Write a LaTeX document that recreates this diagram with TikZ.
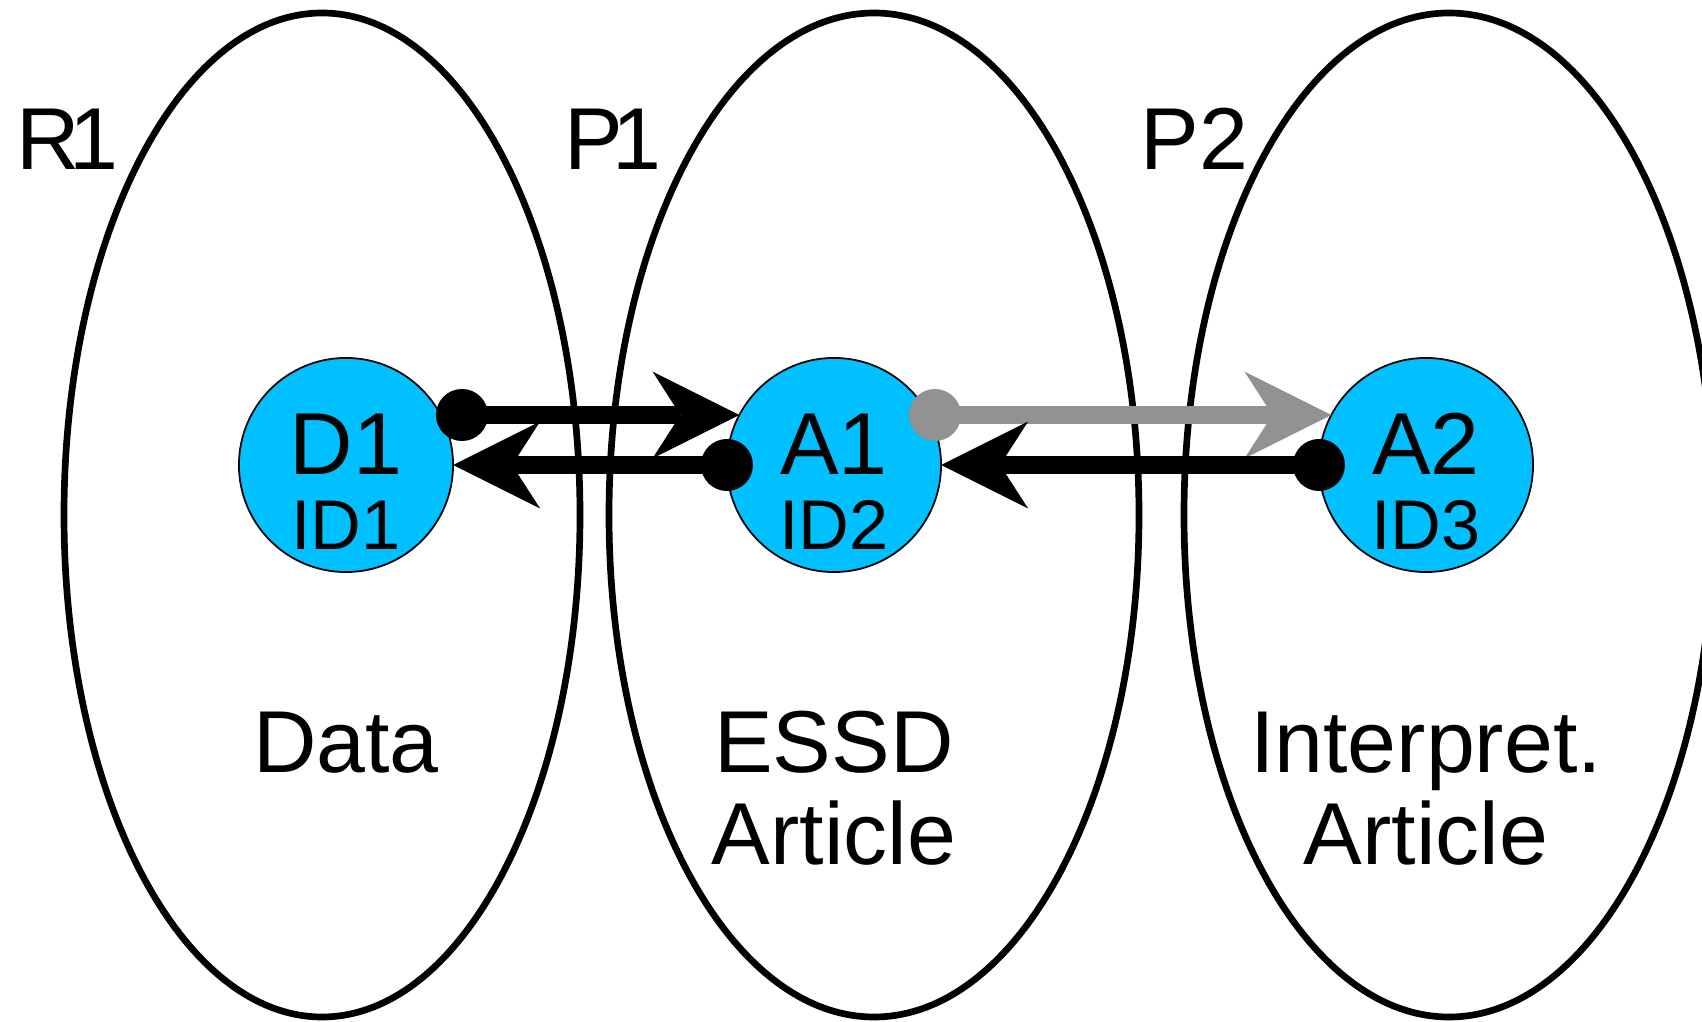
\documentclass[tikz,border=0pt]{standalone}
\usepackage{fontspec}
\setmainfont{Liberation Sans}
\usetikzlibrary{arrows.meta}
\definecolor{idblue}{RGB}{0,192,255}
\definecolor{linkgrey}{RGB}{146,146,146}

\begin{document}
\begin{tikzpicture}
[x=0.01cm, y=-0.01cm,
  setDecorate/.style={line width=1.9pt},
  idDecorate/.style={shape=circle,draw,line width=0.5pt,fill=idblue,minimum size=2.14cm,inner sep=0pt,outer sep=0pt},
  dotDecorate/.style={shape=circle,fill,minimum size=0.52cm,inner sep=0pt},
  linkDecorate/.style={line width=0.175cm,-{Stealth[length=0.87cm,width=0.87cm,inset=0.28cm,line width=0pt]}},
  setText/.style={font=\fontsize{25}{30}\selectfont,inner sep=0pt,anchor=base},
  idText/.style={font=\fontsize{20}{24}\selectfont,inner sep=0pt,anchor=base}]
\useasboundingbox (0,0) rectangle (1702,1022);
\clip (0,0) rectangle (1702,1022);
%% sets
\foreach \setname/\x/\rx in {R1/322/258, P1/874/265, P2/1449/265}
{
  \draw[setDecorate] (\x,515) ellipse [x radius=\rx, y radius=502];
}
\node[setText,anchor=base west] (R1) at (16,170) {R\kern-0.12em1};
\node[setText,anchor=base west] (P1) at (564,170) {P\kern-0.12em1};
\node[setText,anchor=base west] (P2) at (1140,170) {P2};
\node[setText] (data) at (346,773) {Data};
\node[setText] (essd) at (834,773) {ESSD};
\node[setText] (essdart) at (834,865) {Article};
\node[setText] (interp) at (1426,773) {Interpret.};
\node[setText] (interpart) at (1426,865) {Article};
%% identified objects
\foreach \nodename/\x/\idname in {D1/346/ID1, A1/834/ID2, A2/1426/ID3}
{
  \node[idDecorate] (\nodename) at (\x,465) {};
  \node[setText] (\nodename-name) at (\x,475) {\nodename};
  \node[idText] (\nodename-id) at (\x,550) {\idname};
}
%% links
\coordinate (d1out) at (462,415);
\coordinate (a1out) at (935,415);
\draw[linkDecorate] (d1out) -- (d1out -| A1.152);
\draw[linkDecorate] (A1.west) -- (D1.east);
\draw[linkDecorate,linkgrey] (a1out) -- (a1out -| A2.152);
\draw[linkDecorate] (A2.west) -- (A1.east);
\node[dotDecorate] (d1dot) at (d1out) {};
\node[dotDecorate] (a1dot) at (A1.west) {};
\node[dotDecorate,linkgrey] (a1greydot) at (a1out) {};
\node[dotDecorate] (a2dot) at (A2.west) {};
\end{tikzpicture}
\end{document}
